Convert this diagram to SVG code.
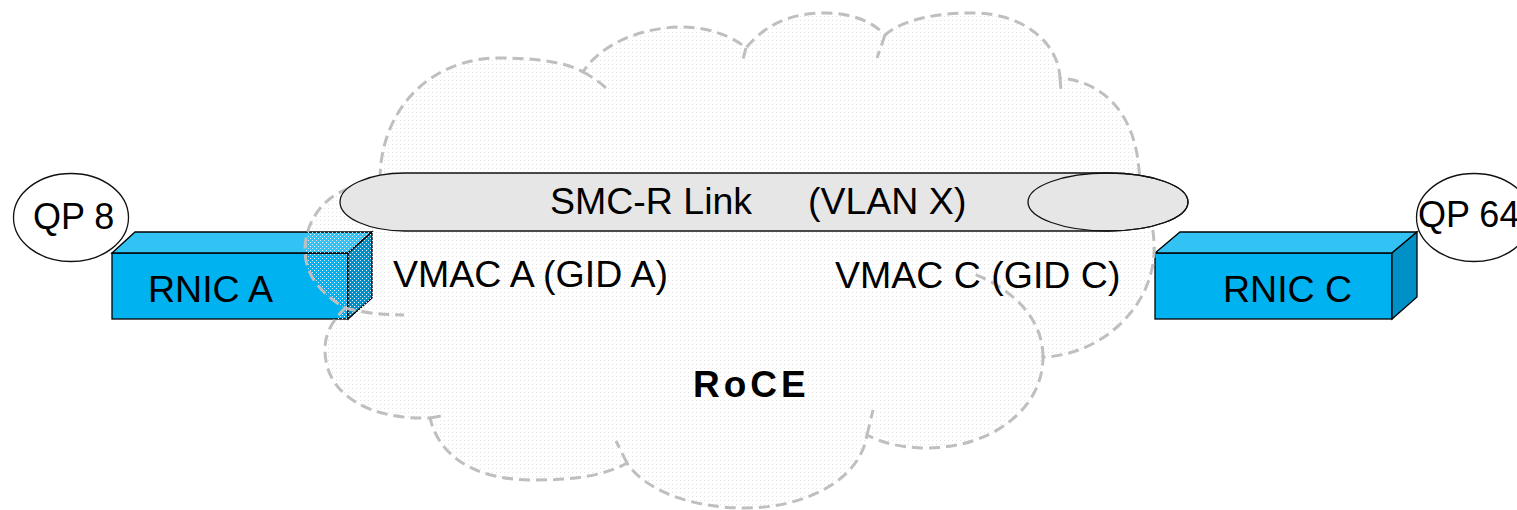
<svg xmlns="http://www.w3.org/2000/svg" width="1517" height="510" viewBox="0 0 1517 510">
  <style>
    .txt { font-family: "Liberation Sans", Arial, sans-serif; font-size: 37.5px; fill: #000; }
    .qp { font-family: "Liberation Sans", Arial, sans-serif; font-size: 36px; fill: #000; }
    .bold { font-family: "Liberation Sans", Arial, sans-serif; font-size: 37px; font-weight: bold; fill: #000; letter-spacing: 4px; }
    .edge { stroke: #000; stroke-width: 1.3; stroke-linejoin: miter; }
    .front { fill: #00b2f0; }
    .top { fill: #33c2f4; }
    .side { fill: #0090c8; }
    .oval { fill: #fff; stroke: #111; stroke-width: 1.3; }
    .cloud { fill: url(#dots); stroke: #bfbfbf; stroke-width: 3; stroke-dasharray: 11 6; }
    .tick { fill: none; stroke: #bfbfbf; stroke-width: 3; stroke-dasharray: 11 6; }
    .link { fill: #e6e6e6; stroke: #111; stroke-width: 1.3; }
  </style>
  <defs>
    <pattern id="dots" width="4" height="4" patternUnits="userSpaceOnUse">
      <rect x="0" y="0" width="1" height="1" fill="#e2e2e2"/>
      <rect x="2" y="2" width="1" height="1" fill="#ffffff"/>
    </pattern>
  </defs>
  <rect width="1517" height="510" fill="#fff"/>

  <g id="qp8">
    <ellipse class="oval" cx="71" cy="217.5" rx="57.5" ry="44"/>
    <text class="qp" x="33" y="229">QP 8</text>
  </g>
  <g id="qp64">
    <ellipse class="oval" cx="1474" cy="217.5" rx="57.5" ry="44"/>
    <text class="qp" x="1418" y="227">QP 64</text>
  </g>

  <g id="rnicA">
    <rect class="front edge" x="112" y="253" width="236" height="66"/>
    <polygon class="top edge" points="112,253 135,232 372,232 348,253"/>
    <polygon class="side edge" points="348,253 372,232 372,298 348,319"/>
    <text class="txt" x="148" y="302">RNIC A</text>
  </g>
  <g id="rnicC">
    <rect class="front edge" x="1155" y="253" width="237" height="66"/>
    <polygon class="top edge" points="1155,253 1180,232 1417,232 1392,253"/>
    <polygon class="side edge" points="1392,253 1417,232 1417,297 1392,319"/>
    <text class="txt" x="1223" y="302">RNIC C</text>
  </g>

  <g id="roce">
    <path class="cloud" d="M380,180 C380,110 430,58 499,58 C540,58 568,63 583,72 C600,45 640,27 683,27 C710,27 735,38 746,48 C765,25 790,13 825,13 C852,13 873,22 885,35 C905,18 940,13 973,13 C1020,13 1058,40 1060,78 C1105,82 1135,115 1139,170 C1142,200 1156,220 1154,255 C1150,310 1100,355 1043,357 C1043,410 990,448 927,448 C900,448 880,442 867,435 C860,480 805,508 745,508 C690,508 645,490 627,463 C600,478 565,480 533,480 C480,480 440,460 430,418 C370,420 325,395 325,350 C325,338 328,325 345,308 C315,290 305,270 305,250 C305,225 320,200 345,190 C360,184 370,181 380,180 Z"/>
    <path class="tick" d="M583,72 Q595,78 606,88"/>
    <path class="tick" d="M746,48 L742,63"/>
    <path class="tick" d="M885,35 L877,58"/>
    <path class="tick" d="M1060,78 L1061,91"/>
    <path class="tick" d="M627,463 L616,441"/>
    <path class="tick" d="M867,435 L873,410"/>
    <path class="tick" d="M1043,357 C1043,320 1015,290 972,273"/>
    <path class="tick" d="M430,418 L441,416"/>
    <path class="tick" d="M345,308 Q372,315 404,315"/>
    <text class="bold" x="693" y="397">RoCE</text>
  </g>

  <g id="connectors">
    <g id="smcr-link">
      <path class="link" d="M405,173 L1108,173 A80,29 0 0 1 1108,231 L405,231 A65,29 0 0 1 405,173 Z"/>
      <ellipse cx="1108" cy="202" rx="80" ry="29" fill="none" stroke="#111" stroke-width="1.3"/>
      <text class="txt" x="550" y="214">SMC-R Link</text>
      <text class="txt" x="808" y="214">(VLAN X)</text>
    </g>
  </g>

  <g id="labels">
    <text class="txt" x="393" y="287">VMAC A (GID A)</text>
    <text class="txt" x="835" y="288">VMAC C (GID C)</text>
  </g>
</svg>
